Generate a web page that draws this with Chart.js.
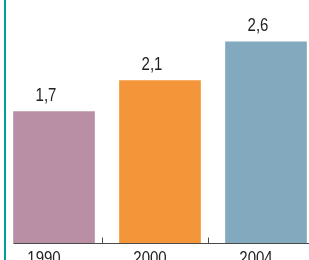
<!DOCTYPE html>
<html><head><meta charset="utf-8">
<script src="https://cdn.jsdelivr.net/npm/chart.js@4/dist/chart.umd.min.js"></script>
<style>
html,body{margin:0;padding:0;background:#fff;}
#wrap{position:relative;width:309px;height:260px;overflow:hidden;background:#fff;}
#edge{position:absolute;left:4px;top:0;width:2px;height:260px;background:#00a096;}
canvas{position:absolute;left:0;top:0;}
</style></head><body>
<div id="wrap"><canvas id="c" width="330" height="260" style="width:330px;height:260px"></canvas><div id="edge"></div></div>
<script>
const categories = ['1990', '2000', '2004'];
const values = [1.7, 2.1, 2.6];
const valueLabels = ['1,7', '2,1', '2,6'];
const barColors = ['#b98fa6', '#f5953a', '#82a9bd'];

const FONT = '19px "Liberation Sans", Arial, sans-serif';
const NARROW = 0.79;   // condensed look of the original typeface
const TEXT_COLOR = '#222';

function narrowText(ctx, text, x, y) {
  ctx.save();
  ctx.translate(x, y);
  ctx.scale(NARROW, 1);
  ctx.fillText(text, 0, 0);
  ctx.restore();
}

const decor = {
  id: 'decor',
  beforeDatasetsDraw(chart) {
    const ctx = chart.ctx, area = chart.chartArea;
    const meta = chart.getDatasetMeta(0);
    const xs = chart.scales.x;
    const y = area.bottom + 0.5;
    ctx.save();
    ctx.strokeStyle = '#4a4a4a';
    ctx.lineWidth = 1;
    ctx.beginPath();
    const first = meta.data[0];
    ctx.moveTo(first.x - first.width / 2, y);
    ctx.lineTo(area.right, y);
    for (let i = 0; i < categories.length - 1; i++) {
      const bx = Math.round((xs.getPixelForTick(i) + xs.getPixelForTick(i + 1)) / 2) - 5 + 0.5;
      ctx.moveTo(bx, y);
      ctx.lineTo(bx, y - 6);
    }
    ctx.stroke();
    ctx.restore();
  },
  afterDatasetsDraw(chart) {
    const ctx = chart.ctx, area = chart.chartArea;
    const meta = chart.getDatasetMeta(0);
    const xs = chart.scales.x;
    ctx.save();
    ctx.font = FONT;
    ctx.fillStyle = TEXT_COLOR;
    ctx.textAlign = 'center';
    ctx.textBaseline = 'alphabetic';
    // value labels above bars
    meta.data.forEach((bar, i) => {
      narrowText(ctx, valueLabels[i], bar.x - 8, bar.y - 11);
    });
    // category labels under the axis
    xs.getLabels().forEach((lab, i) => {
      narrowText(ctx, lab, xs.getPixelForTick(i) - 10, area.bottom + 20.5);
    });
    ctx.restore();
  }
};

new Chart(document.getElementById('c'), {
  type: 'bar',
  data: {
    labels: categories,
    datasets: [{
      data: values,
      backgroundColor: barColors,
      borderWidth: 0,
      barThickness: 81
    }]
  },
  options: {
    responsive: false,
    animation: false,
    devicePixelRatio: 1,
    layout: { padding: { left: 1, right: 11, top: 11, bottom: 9 } },
    plugins: { legend: { display: false }, tooltip: { enabled: false } },
    scales: {
      y: { display: false, min: 0, max: 3 },
      x: {
        grid: { display: false },
        border: { display: false },
        ticks: { display: false }
      }
    }
  },
  plugins: [decor]
});
</script>
</body></html>
